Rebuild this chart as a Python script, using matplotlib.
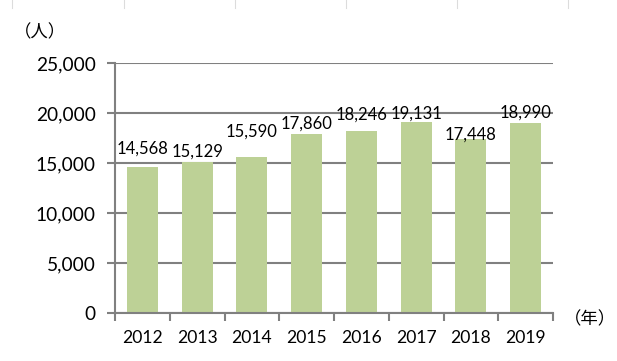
import matplotlib
matplotlib.use("Agg")
import matplotlib.pyplot as plt
from matplotlib.lines import Line2D

years = ["2012", "2013", "2014", "2015", "2016", "2017", "2018", "2019"]
people = [14568, 15129, 15590, 17860, 18246, 19131, 17448, 18990]
# label lift above each bar top, in pixels (as placed in the source chart)
label_lift = [20, 11, 26, 12, 17, 9, 5, 11]
yticks = [0, 5000, 10000, 15000, 20000, 25000]

plt.rcParams['font.family'] = ['Lato', 'Noto Sans CJK JP', 'DejaVu Sans']

W, H = 617, 361
fig = plt.figure(figsize=(W / 100, H / 100), dpi=100)
ax = fig.add_axes([115 / W, 1 - 313 / H, (553 - 115) / W, (313 - 63) / H])

x = range(len(years))
ax.bar(x, people, width=0.57, color="#bdd196", zorder=2)
ax.set_xlim(-0.5, len(years) - 0.5)
ax.set_ylim(0, 25000)
ax.set_yticks(yticks)
ax.set_yticklabels([f"{v:,}" for v in yticks], fontsize=13.8)
ax.set_xticks([i - 0.5 for i in range(len(years) + 1)], minor=False)
ax.set_xticklabels([])
ax.set_xticks(list(x), minor=True)
ax.set_xticklabels(years, minor=True, fontsize=12.6)
ax.tick_params(axis="x", which="minor", length=0, pad=12)
ax.tick_params(axis="x", which="major", length=6, width=1.5, color="#808080")
ax.tick_params(axis="y", length=6, width=1.5, color="#808080", pad=8)

ax.yaxis.grid(True, color="#808080", linewidth=1.5, zorder=1)
for s in ["top", "right"]:
    ax.spines[s].set_visible(False)
for s in ["left", "bottom"]:
    ax.spines[s].set_color("#808080")
    ax.spines[s].set_linewidth(1.5)

for i, v in enumerate(people):
    ax.annotate(f"{v:,}", (i, v), xytext=(0, label_lift[i] - 6), textcoords="offset pixels",
                ha="center", va="baseline", fontsize=12, zorder=3)

fig.text(40 / W, 1 - 32 / H, "（人）", ha="center", va="center", fontsize=12.5)
fig.text(590 / W, 1 - 319 / H, "（年）", ha="center", va="center", fontsize=12.5)

# faint cell borders at the top edge
for px in [12, 124, 235, 346, 457, 568]:
    fig.add_artist(Line2D([px / W, px / W], [1, 1 - 8 / H], color="#dcdcdc", linewidth=0.8))

fig.savefig("out.png", dpi=100)
